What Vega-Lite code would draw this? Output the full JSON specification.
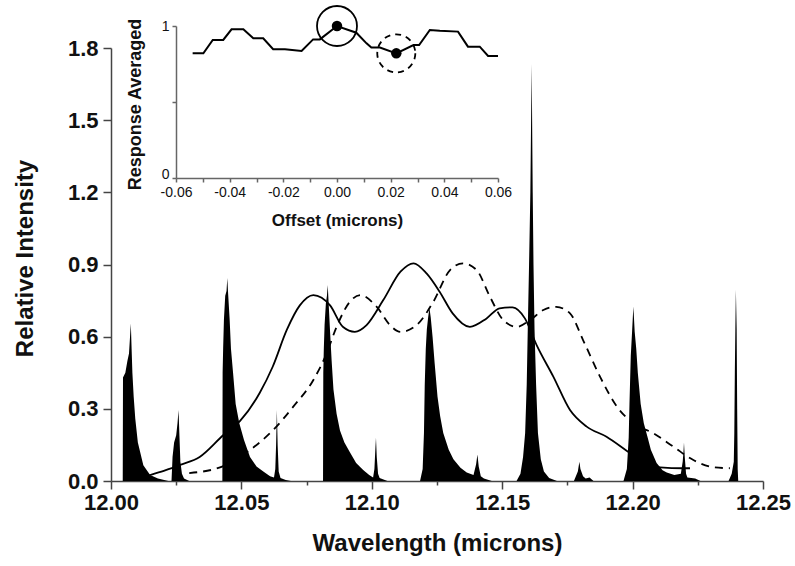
{
  "$schema": "https://vega.github.io/schema/vega-lite/v6.json",
  "width": 652,
  "height": 433,
  "autosize": {"type": "none"},
  "padding": {"left": 111, "top": 48, "right": 32, "bottom": 85},
  "background": "white",
  "config": {
    "view": {"stroke": null},
    "font": "Liberation Sans",
    "axis": {
      "grid": false,
      "domainColor": "#444",
      "domainWidth": 1.5,
      "tickColor": "#444",
      "tickWidth": 1.5,
      "labelColor": "#111",
      "titleColor": "#111",
      "labelFont": "Liberation Sans",
      "titleFont": "Liberation Sans",
      "labelFontWeight": "bold",
      "titleFontWeight": "bold",
      "labelOverlap": false,
      "labelFlush": false
    }
  },
  "datasets": {
    "spectrum": [
      {"wavelength": 12.0045, "intensity": 0},
      {"wavelength": 12.0046, "intensity": 0.43},
      {"wavelength": 12.0055, "intensity": 0.45},
      {"wavelength": 12.0063, "intensity": 0.5},
      {"wavelength": 12.0069, "intensity": 0.53},
      {"wavelength": 12.0073, "intensity": 0.6},
      {"wavelength": 12.0076, "intensity": 0.655},
      {"wavelength": 12.0079, "intensity": 0.55},
      {"wavelength": 12.0082, "intensity": 0.45},
      {"wavelength": 12.0087, "intensity": 0.35},
      {"wavelength": 12.0093, "intensity": 0.26},
      {"wavelength": 12.0103, "intensity": 0.16},
      {"wavelength": 12.0124, "intensity": 0.065},
      {"wavelength": 12.015, "intensity": 0.025},
      {"wavelength": 12.018, "intensity": 0.01},
      {"wavelength": 12.022, "intensity": 0},
      {"wavelength": 12.0232, "intensity": 0},
      {"wavelength": 12.0236, "intensity": 0.1},
      {"wavelength": 12.0242, "intensity": 0.16},
      {"wavelength": 12.025, "intensity": 0.19},
      {"wavelength": 12.0255, "intensity": 0.24},
      {"wavelength": 12.0259, "intensity": 0.295},
      {"wavelength": 12.0262, "intensity": 0.2},
      {"wavelength": 12.0266, "intensity": 0.08},
      {"wavelength": 12.0272, "intensity": 0.03},
      {"wavelength": 12.028, "intensity": 0.01},
      {"wavelength": 12.03, "intensity": 0},
      {"wavelength": 12.0427, "intensity": 0},
      {"wavelength": 12.0428, "intensity": 0.45},
      {"wavelength": 12.043, "intensity": 0.55},
      {"wavelength": 12.0433, "intensity": 0.67},
      {"wavelength": 12.0438, "intensity": 0.77},
      {"wavelength": 12.0443, "intensity": 0.79},
      {"wavelength": 12.0446, "intensity": 0.844},
      {"wavelength": 12.0449, "intensity": 0.78},
      {"wavelength": 12.0455, "intensity": 0.67},
      {"wavelength": 12.046, "intensity": 0.55},
      {"wavelength": 12.0468, "intensity": 0.45},
      {"wavelength": 12.0478, "intensity": 0.32},
      {"wavelength": 12.0492, "intensity": 0.24},
      {"wavelength": 12.051, "intensity": 0.17},
      {"wavelength": 12.0533, "intensity": 0.1},
      {"wavelength": 12.0558, "intensity": 0.06},
      {"wavelength": 12.0584, "intensity": 0.039},
      {"wavelength": 12.061, "intensity": 0.02},
      {"wavelength": 12.0625, "intensity": 0.015},
      {"wavelength": 12.063, "intensity": 0.05},
      {"wavelength": 12.0633, "intensity": 0.15},
      {"wavelength": 12.0636, "intensity": 0.295},
      {"wavelength": 12.0639, "intensity": 0.15},
      {"wavelength": 12.0643, "intensity": 0.04},
      {"wavelength": 12.065, "intensity": 0.012},
      {"wavelength": 12.067, "intensity": 0.004},
      {"wavelength": 12.069, "intensity": 0},
      {"wavelength": 12.0813, "intensity": 0},
      {"wavelength": 12.0814, "intensity": 0.45},
      {"wavelength": 12.0816, "intensity": 0.55},
      {"wavelength": 12.0819, "intensity": 0.65},
      {"wavelength": 12.0824, "intensity": 0.74},
      {"wavelength": 12.0828, "intensity": 0.77},
      {"wavelength": 12.0831, "intensity": 0.815},
      {"wavelength": 12.0834, "intensity": 0.75},
      {"wavelength": 12.084, "intensity": 0.62},
      {"wavelength": 12.0846, "intensity": 0.5},
      {"wavelength": 12.0853, "intensity": 0.38},
      {"wavelength": 12.0865, "intensity": 0.28},
      {"wavelength": 12.0878, "intensity": 0.21},
      {"wavelength": 12.0895, "intensity": 0.16},
      {"wavelength": 12.0916, "intensity": 0.12},
      {"wavelength": 12.094, "intensity": 0.075},
      {"wavelength": 12.0967, "intensity": 0.046},
      {"wavelength": 12.099, "intensity": 0.025},
      {"wavelength": 12.1005, "intensity": 0.015},
      {"wavelength": 12.101, "intensity": 0.05},
      {"wavelength": 12.1014, "intensity": 0.14},
      {"wavelength": 12.1016, "intensity": 0.18},
      {"wavelength": 12.1019, "intensity": 0.1},
      {"wavelength": 12.1024, "intensity": 0.03},
      {"wavelength": 12.103, "intensity": 0.012},
      {"wavelength": 12.106, "intensity": 0},
      {"wavelength": 12.1185, "intensity": 0},
      {"wavelength": 12.1195, "intensity": 0.05},
      {"wavelength": 12.12, "intensity": 0.2},
      {"wavelength": 12.1203, "intensity": 0.4},
      {"wavelength": 12.1207, "intensity": 0.55},
      {"wavelength": 12.1211, "intensity": 0.63},
      {"wavelength": 12.1216, "intensity": 0.68},
      {"wavelength": 12.1221, "intensity": 0.72},
      {"wavelength": 12.1226, "intensity": 0.68},
      {"wavelength": 12.1233, "intensity": 0.6},
      {"wavelength": 12.1241, "intensity": 0.49},
      {"wavelength": 12.1252, "intensity": 0.35},
      {"wavelength": 12.1262, "intensity": 0.27},
      {"wavelength": 12.1274, "intensity": 0.2},
      {"wavelength": 12.1295, "intensity": 0.13},
      {"wavelength": 12.1313, "intensity": 0.09},
      {"wavelength": 12.134, "intensity": 0.055},
      {"wavelength": 12.1364, "intensity": 0.035},
      {"wavelength": 12.139, "intensity": 0.025},
      {"wavelength": 12.14, "intensity": 0.07},
      {"wavelength": 12.1405, "intensity": 0.11},
      {"wavelength": 12.141, "intensity": 0.06},
      {"wavelength": 12.1418, "intensity": 0.02},
      {"wavelength": 12.143, "intensity": 0.01},
      {"wavelength": 12.146, "intensity": 0},
      {"wavelength": 12.1555, "intensity": 0},
      {"wavelength": 12.157, "intensity": 0.03},
      {"wavelength": 12.158, "intensity": 0.1},
      {"wavelength": 12.1588, "intensity": 0.2},
      {"wavelength": 12.1594, "intensity": 0.4},
      {"wavelength": 12.1598, "intensity": 0.63},
      {"wavelength": 12.1603, "intensity": 0.9},
      {"wavelength": 12.1608, "intensity": 1.2},
      {"wavelength": 12.1613, "intensity": 1.733},
      {"wavelength": 12.1617, "intensity": 1.2},
      {"wavelength": 12.162, "intensity": 0.9},
      {"wavelength": 12.1624, "intensity": 0.63},
      {"wavelength": 12.163, "intensity": 0.4},
      {"wavelength": 12.1637, "intensity": 0.2},
      {"wavelength": 12.1648, "intensity": 0.09},
      {"wavelength": 12.166, "intensity": 0.04},
      {"wavelength": 12.168, "intensity": 0.012},
      {"wavelength": 12.171, "intensity": 0},
      {"wavelength": 12.1775, "intensity": 0},
      {"wavelength": 12.179, "intensity": 0.04},
      {"wavelength": 12.1796, "intensity": 0.08},
      {"wavelength": 12.18, "intensity": 0.05},
      {"wavelength": 12.181, "intensity": 0.02},
      {"wavelength": 12.182, "intensity": 0.01},
      {"wavelength": 12.1835, "intensity": 0.015},
      {"wavelength": 12.185, "intensity": 0},
      {"wavelength": 12.1965, "intensity": 0},
      {"wavelength": 12.1978, "intensity": 0.05},
      {"wavelength": 12.1985, "intensity": 0.18},
      {"wavelength": 12.1988, "intensity": 0.32},
      {"wavelength": 12.1993, "intensity": 0.52},
      {"wavelength": 12.1998, "intensity": 0.62},
      {"wavelength": 12.2003, "intensity": 0.725},
      {"wavelength": 12.2008, "intensity": 0.62},
      {"wavelength": 12.2014, "intensity": 0.55},
      {"wavelength": 12.202, "intensity": 0.45},
      {"wavelength": 12.2031, "intensity": 0.32},
      {"wavelength": 12.2043, "intensity": 0.24},
      {"wavelength": 12.2058, "intensity": 0.18},
      {"wavelength": 12.207, "intensity": 0.13},
      {"wavelength": 12.2092, "intensity": 0.075},
      {"wavelength": 12.2115, "intensity": 0.045},
      {"wavelength": 12.2131, "intensity": 0.035},
      {"wavelength": 12.216, "intensity": 0.025},
      {"wavelength": 12.2185, "intensity": 0.03},
      {"wavelength": 12.2192, "intensity": 0.08},
      {"wavelength": 12.2195, "intensity": 0.12},
      {"wavelength": 12.2197, "intensity": 0.16},
      {"wavelength": 12.22, "intensity": 0.1},
      {"wavelength": 12.2205, "intensity": 0.03},
      {"wavelength": 12.221, "intensity": 0.015},
      {"wavelength": 12.224, "intensity": 0.01},
      {"wavelength": 12.226, "intensity": 0},
      {"wavelength": 12.2368, "intensity": 0},
      {"wavelength": 12.238, "intensity": 0.03},
      {"wavelength": 12.2388, "intensity": 0.08},
      {"wavelength": 12.239, "intensity": 0.2},
      {"wavelength": 12.2392, "intensity": 0.45},
      {"wavelength": 12.2394, "intensity": 0.63},
      {"wavelength": 12.2396, "intensity": 0.795},
      {"wavelength": 12.2399, "intensity": 0.63},
      {"wavelength": 12.2401, "intensity": 0.3},
      {"wavelength": 12.2403, "intensity": 0.05},
      {"wavelength": 12.2405, "intensity": 0}
    ],
    "solid": [
      {"wavelength": 12.012, "intensity": 0.015},
      {"wavelength": 12.015, "intensity": 0.025},
      {"wavelength": 12.021, "intensity": 0.045},
      {"wavelength": 12.0265, "intensity": 0.067},
      {"wavelength": 12.034, "intensity": 0.1},
      {"wavelength": 12.043, "intensity": 0.19},
      {"wavelength": 12.0495, "intensity": 0.25},
      {"wavelength": 12.057, "intensity": 0.366},
      {"wavelength": 12.062, "intensity": 0.475},
      {"wavelength": 12.0674, "intensity": 0.628},
      {"wavelength": 12.0724, "intensity": 0.73},
      {"wavelength": 12.0776, "intensity": 0.773},
      {"wavelength": 12.084, "intensity": 0.73},
      {"wavelength": 12.089, "intensity": 0.64},
      {"wavelength": 12.0935, "intensity": 0.62},
      {"wavelength": 12.098, "intensity": 0.648},
      {"wavelength": 12.1044, "intensity": 0.752},
      {"wavelength": 12.111, "intensity": 0.87},
      {"wavelength": 12.116, "intensity": 0.905},
      {"wavelength": 12.121, "intensity": 0.863},
      {"wavelength": 12.126, "intensity": 0.787},
      {"wavelength": 12.131, "intensity": 0.697},
      {"wavelength": 12.1376, "intensity": 0.641},
      {"wavelength": 12.144, "intensity": 0.676},
      {"wavelength": 12.149, "intensity": 0.718},
      {"wavelength": 12.154, "intensity": 0.722},
      {"wavelength": 12.1587, "intensity": 0.676},
      {"wavelength": 12.1632, "intensity": 0.565},
      {"wavelength": 12.1696, "intensity": 0.434},
      {"wavelength": 12.176, "intensity": 0.295},
      {"wavelength": 12.1824, "intensity": 0.226},
      {"wavelength": 12.19, "intensity": 0.184},
      {"wavelength": 12.1977, "intensity": 0.126},
      {"wavelength": 12.2028, "intensity": 0.087},
      {"wavelength": 12.2105, "intensity": 0.057},
      {"wavelength": 12.2194, "intensity": 0.053},
      {"wavelength": 12.222, "intensity": 0.053}
    ],
    "dashed": [
      {"wavelength": 12.03, "intensity": 0.033},
      {"wavelength": 12.0418, "intensity": 0.057},
      {"wavelength": 12.0533, "intensity": 0.129},
      {"wavelength": 12.0622, "intensity": 0.212},
      {"wavelength": 12.0699, "intensity": 0.309},
      {"wavelength": 12.0776, "intensity": 0.42},
      {"wavelength": 12.0827, "intensity": 0.531},
      {"wavelength": 12.0865, "intensity": 0.641},
      {"wavelength": 12.0916, "intensity": 0.745},
      {"wavelength": 12.0955, "intensity": 0.773},
      {"wavelength": 12.1019, "intensity": 0.724},
      {"wavelength": 12.107, "intensity": 0.648},
      {"wavelength": 12.111, "intensity": 0.62},
      {"wavelength": 12.1172, "intensity": 0.648},
      {"wavelength": 12.1236, "intensity": 0.745},
      {"wavelength": 12.13, "intensity": 0.877},
      {"wavelength": 12.135, "intensity": 0.905},
      {"wavelength": 12.1402, "intensity": 0.877},
      {"wavelength": 12.1453, "intensity": 0.766},
      {"wavelength": 12.1504, "intensity": 0.669},
      {"wavelength": 12.1556, "intensity": 0.641},
      {"wavelength": 12.1607, "intensity": 0.669},
      {"wavelength": 12.1658, "intensity": 0.711},
      {"wavelength": 12.1707, "intensity": 0.724},
      {"wavelength": 12.176, "intensity": 0.697},
      {"wavelength": 12.181, "intensity": 0.586},
      {"wavelength": 12.1875, "intensity": 0.434},
      {"wavelength": 12.194, "intensity": 0.309},
      {"wavelength": 12.2003, "intensity": 0.24},
      {"wavelength": 12.208, "intensity": 0.198},
      {"wavelength": 12.2156, "intensity": 0.143},
      {"wavelength": 12.2233, "intensity": 0.087},
      {"wavelength": 12.231, "intensity": 0.057},
      {"wavelength": 12.2373, "intensity": 0.053}
    ],
    "inset": [
      {"offset": -0.0538, "response": 0.82},
      {"offset": -0.0498, "response": 0.82},
      {"offset": -0.0463, "response": 0.908},
      {"offset": -0.0424, "response": 0.908},
      {"offset": -0.0393, "response": 0.978},
      {"offset": -0.0349, "response": 0.978},
      {"offset": -0.0312, "response": 0.919},
      {"offset": -0.0275, "response": 0.919},
      {"offset": -0.0238, "response": 0.847},
      {"offset": -0.0194, "response": 0.847},
      {"offset": -0.0132, "response": 0.836},
      {"offset": -0.0089, "response": 0.912},
      {"offset": -0.0064, "response": 0.912},
      {"offset": 0.0, "response": 1.0},
      {"offset": 0.0072, "response": 0.956},
      {"offset": 0.011, "response": 0.886},
      {"offset": 0.0128, "response": 0.858},
      {"offset": 0.016, "response": 0.858},
      {"offset": 0.0221, "response": 0.82},
      {"offset": 0.0285, "response": 0.875},
      {"offset": 0.0306, "response": 0.875},
      {"offset": 0.0346, "response": 0.974},
      {"offset": 0.0383, "response": 0.969},
      {"offset": 0.0451, "response": 0.963},
      {"offset": 0.0488, "response": 0.864},
      {"offset": 0.0532, "response": 0.864},
      {"offset": 0.0563, "response": 0.803},
      {"offset": 0.06, "response": 0.803}
    ],
    "ringSolid": [{"offset": 0.0, "response": 1.0}],
    "ringDashed": [{"offset": 0.0221, "response": 0.82}],
    "dots": [
      {"offset": 0.0, "response": 1.0},
      {"offset": 0.0221, "response": 0.82}
    ]
  },
  "layer": [
    {
      "layer": [
        {
          "data": {"name": "spectrum"},
          "mark": {"type": "area", "color": "black", "interpolate": "linear"},
          "encoding": {
            "x": {
              "field": "wavelength",
              "type": "quantitative",
              "scale": {"domain": [12.0, 12.25], "nice": false, "zero": false},
              "axis": {
                "title": "Wavelength (microns)",
                "values": [12.0, 12.025, 12.05, 12.075, 12.1, 12.125, 12.15, 12.175, 12.2, 12.225, 12.25],
                "format": ".2f",
                "labelExpr": "abs(datum.value*20 - round(datum.value*20)) < 0.01 ? datum.label : ''",
                "tickSize": {"condition": {"test": "abs(datum.value*20 - round(datum.value*20)) < 0.01", "value": 8}, "value": 4},
                "labelFontSize": 22,
                "labelPadding": 3,
                "titleFontSize": 24,
                "titleX": 326,
                "titleY": 62,
                "titleBaseline": "middle"
              }
            },
            "y": {
              "field": "intensity",
              "type": "quantitative",
              "scale": {"domain": [0, 1.8], "nice": false},
              "axis": {
                "title": "Relative Intensity",
                "values": [0, 0.15, 0.3, 0.45, 0.6, 0.75, 0.9, 1.05, 1.2, 1.35, 1.5, 1.65, 1.8],
                "format": ".1f",
                "labelExpr": "abs(datum.value/0.3 - round(datum.value/0.3)) < 0.01 ? datum.label : ''",
                "tickSize": {"condition": {"test": "abs(datum.value/0.3 - round(datum.value/0.3)) < 0.01", "value": 8}, "value": 4},
                "labelFontSize": 22,
                "labelPadding": 5,
                "titleFontSize": 24,
                "titleX": -86,
                "titleY": 210,
                "titleBaseline": "middle"
              }
            }
          }
        },
        {
          "data": {"name": "solid"},
          "mark": {"type": "line", "color": "black", "strokeWidth": 1.8, "interpolate": "monotone"},
          "encoding": {
            "x": {"field": "wavelength", "type": "quantitative"},
            "y": {"field": "intensity", "type": "quantitative"}
          }
        },
        {
          "data": {"name": "dashed"},
          "mark": {"type": "line", "color": "black", "strokeWidth": 1.8, "strokeDash": [8, 6], "interpolate": "monotone"},
          "encoding": {
            "x": {"field": "wavelength", "type": "quantitative"},
            "y": {"field": "intensity", "type": "quantitative"}
          }
        }
      ]
    },
    {
      "layer": [
        {
          "data": {"name": "inset"},
          "mark": {"type": "line", "color": "black", "strokeWidth": 2},
          "encoding": {
            "x": {
              "field": "offset",
              "type": "quantitative",
              "scale": {"domain": [-0.06, 0.06], "range": [65, 387], "nice": false, "zero": false},
              "axis": {
                "orient": "bottom",
                "offset": -303,
                "title": "Offset (microns)",
                "values": [-0.06, -0.05, -0.04, -0.03, -0.02, -0.01, 0, 0.01, 0.02, 0.03, 0.04, 0.05, 0.06],
                "labelExpr": "abs(datum.value*50 - round(datum.value*50)) < 0.01 ? replace(format(datum.value, '.2f'), '\u2212', '-') : ''",
                "tickSize": 4,
                "domainColor": "#666",
                "tickColor": "#666",
                "labelFontSize": 14,
                "labelFontWeight": "normal",
                "labelPadding": 3,
                "titleFontSize": 17,
                "titleX": 226,
                "titleY": 42,
                "titleBaseline": "middle"
              }
            },
            "y": {
              "field": "response",
              "type": "quantitative",
              "scale": {"domain": [0, 1], "range": [130, -22], "nice": false, "zero": false},
              "axis": {
                "orient": "left",
                "offset": -65,
                "title": "Response Averaged",
                "values": [0, 0.5, 1],
                "labelExpr": "datum.value == 0.5 ? '' : format(datum.value, 'd')",
                "labelOffset": {"condition": {"test": "datum.value == 0", "value": -4}, "value": 0},
                "tickSize": 4,
                "domainColor": "#666",
                "tickColor": "#666",
                "labelFontSize": 14,
                "labelFontWeight": "normal",
                "labelPadding": 3,
                "titleFontSize": 18,
                "titleX": -41,
                "titleY": 56,
                "titleBaseline": "middle"
              }
            }
          }
        },
        {
          "data": {"name": "ringSolid"},
          "mark": {"type": "point", "shape": "circle", "filled": false, "size": 1600, "stroke": "black", "strokeWidth": 1.8, "opacity": 1},
          "encoding": {
            "x": {"field": "offset", "type": "quantitative"},
            "y": {"field": "response", "type": "quantitative"}
          }
        },
        {
          "data": {"name": "ringDashed"},
          "mark": {"type": "point", "shape": "circle", "filled": false, "size": 1450, "stroke": "black", "strokeWidth": 1.8, "strokeDash": [6, 5], "opacity": 1},
          "encoding": {
            "x": {"field": "offset", "type": "quantitative"},
            "y": {"field": "response", "type": "quantitative"}
          }
        },
        {
          "data": {"name": "dots"},
          "mark": {"type": "point", "shape": "circle", "filled": true, "size": 110, "color": "black", "opacity": 1},
          "encoding": {
            "x": {"field": "offset", "type": "quantitative"},
            "y": {"field": "response", "type": "quantitative"}
          }
        }
      ]
    }
  ],
  "resolve": {"scale": {"x": "independent", "y": "independent"}}
}
